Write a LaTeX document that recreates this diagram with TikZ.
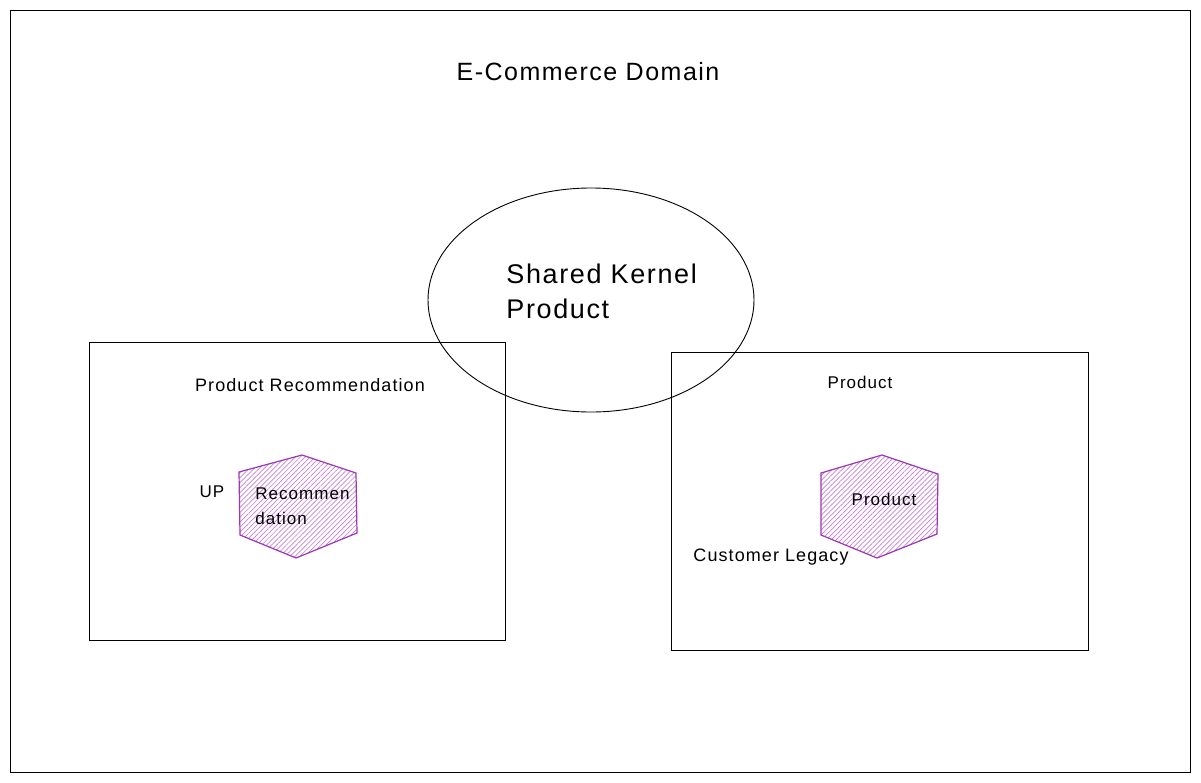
\documentclass[tikz,border=0pt]{standalone}
\usepackage{fontspec}
\setmainfont{Liberation Sans}[LetterSpace=6]
\usepackage{xcolor}
\usetikzlibrary{patterns.meta}
\definecolor{hexpurple}{HTML}{9C36B5}
\definecolor{hatchpurple}{HTML}{C77DDB}

\begin{document}
\begin{tikzpicture}[x=1pt, y=-1pt, line width=0.9pt,
    lbl/.style={inner sep=0pt, text=black},
    hexa/.style={draw=hexpurple, line width=1.2pt,
                 pattern={Lines[angle=45, distance=3.5pt, line width=0.7pt]},
                 pattern color=hatchpurple}]
  \useasboundingbox (0,0) rectangle (1201,782);
  % the domain frame
  \draw (10,10) rectangle (1190,772);
  \node[lbl, font=\fontsize{25}{30}\selectfont] (domain) at (588,72) {E-Commerce Domain};
  % the shared kernel
  \draw (591,300) ellipse [x radius=163, y radius=112];
  \node[lbl, font=\fontsize{27}{35}\selectfont, align=left, anchor=west]
    (kernel) at (506,291) {Shared Kernel\\Product};
  % left context: recommendation
  \draw (89,342) rectangle (505,640);
  \node[lbl, font=\fontsize{18}{22}\selectfont] (recctx) at (310,385) {Product Recommendation};
  \draw[hexa] (302,455) -- (356,473) -- (357,533) -- (296,558) -- (240,535)
    -- (239,472) -- cycle;
  \node[lbl, font=\fontsize{17}{25}\selectfont, align=left, anchor=west]
    (recagg) at (255,506) {Recommen\\dation};
  \node[lbl, font=\fontsize{17}{20}\selectfont] (up) at (212,492) {UP};
  % right context: product
  \draw (671,352) rectangle (1088,650);
  \node[lbl, font=\fontsize{17}{20}\selectfont] (prodctx) at (860,382) {Product};
  \draw[hexa] (882,455) -- (938,474) -- (937,534) -- (877,558) -- (821,535)
    -- (821,473) -- cycle;
  \node[lbl, font=\fontsize{17}{20}\selectfont] (prodagg) at (884,499) {Product};
  \node[lbl, font=\fontsize{18}{20}\selectfont] (legacy) at (771,557) {Customer Legacy};
\end{tikzpicture}
\end{document}
